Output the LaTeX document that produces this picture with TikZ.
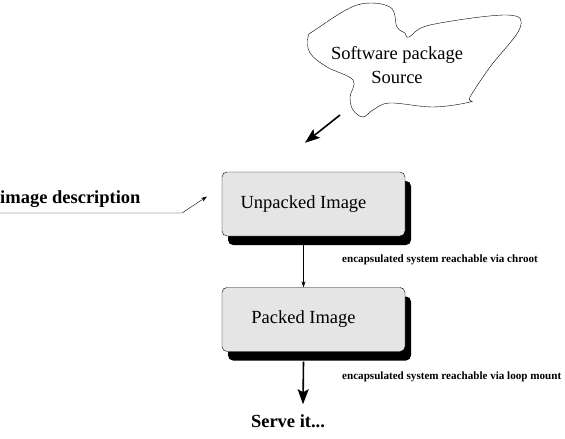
\documentclass[tikz,border=0pt]{standalone}
\usepackage{fontspec}
\setmainfont{Liberation Serif}
\usetikzlibrary{arrows.meta,shadows,positioning}
\tikzset{
  imagebox/.style={draw, line width=0.4pt, rounded corners=5pt, fill=black!10,
    minimum width=183pt, minimum height=64pt,
    drop shadow={shadow xshift=6pt, shadow yshift=-9pt, fill=black, opacity=1}},
  boxtext/.style={font=\fontsize{18.5}{20}\selectfont, xshift=-10pt},
  bigbold/.style={font=\fontsize{18.5}{20}\selectfont\bfseries, inner sep=0pt},
  note/.style={font=\fontsize{11.1}{13}\selectfont\bfseries, anchor=west, inner sep=0pt},
  thinarrow/.style={-{Stealth[length=6pt,width=4pt]}, line width=0.4pt},
  fatarrow/.style={-{Stealth[length=15pt,width=11pt,inset=3pt]}, line width=1.6pt},
}
\begin{document}
\begin{tikzpicture}[x=1pt,y=-1pt]
	\useasboundingbox (0,0) rectangle (565,439);
	% the source cloud
	\draw [line width=0.4pt] plot [smooth cycle, tension=0.6] coordinates {
		(315,30) (357,5) (390,7) (397,27) (405,33) (409,37) (430,25) (507,15)
		(520,28) (490,67) (470,97) (470,102) (433,107) (390,103) (373,110)
		(363,117) (353,110) (350,97) (353,80) (327,67) (310,53) (308,37)};
	\node [align=center, font=\fontsize{18.5}{24}\selectfont] (source) at (397,65) {Software package\\Source};
	\coordinate (cloudtip) at (340,115);
	% the two images
	\node [imagebox, label={[boxtext]center:Unpacked Image}] (unpacked) at (313.5,204) {};
	\node [imagebox, label={[boxtext]center:Packed Image}] (packed) at (313.5,319.5) {};
	\node [bigbold] (serve) at (288,421) {Serve it...};
	% description on the left
	\node [bigbold, anchor=base west] (desc) at (0,203) {image description};
	\coordinate (descline) at (0,213);
	\draw [thinarrow, shorten >=1pt] (descline) -- (182,213) -- ([xshift=-14pt,yshift=8pt]unpacked.west);
	% arrows
	\draw [fatarrow] (cloudtip) -- ([xshift=-8.5pt,yshift=29pt]unpacked.north);
	\draw [thinarrow] ([xshift=-10pt,yshift=-9pt]unpacked.south) -- ([xshift=-10pt]packed.north);
	\draw [fatarrow] ([xshift=-10pt,yshift=-10pt]packed.south) -- ([xshift=15pt,yshift=10pt]serve.north);
	% notes
	\node [note] (chroot) at (342,260) {encapsulated system reachable via chroot};
	\node [note] (loop) at (342,377) {encapsulated system reachable via loop mount};
\end{tikzpicture}
\end{document}
